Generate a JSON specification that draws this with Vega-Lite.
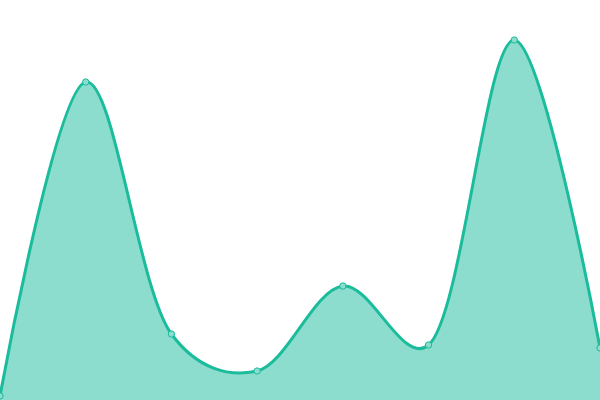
{
  "$schema": "https://vega.github.io/schema/vega-lite/v6.json",
  "width": 600,
  "height": 400,
  "padding": 0,
  "autosize": {"type": "none"},
  "background": "white",
  "config": {"view": {"stroke": null}},
  "data": {
    "values": [
      {"x": 0, "y": 4},
      {"x": 1, "y": 318},
      {"x": 2, "y": 66},
      {"x": 3, "y": 29},
      {"x": 4, "y": 114},
      {"x": 5, "y": 55},
      {"x": 6, "y": 360},
      {"x": 7, "y": 52}
    ]
  },
  "encoding": {
    "x": {"field": "x", "type": "quantitative", "axis": null, "scale": {"domain": [0, 7], "nice": false, "zero": false}},
    "y": {"field": "y", "type": "quantitative", "axis": null, "scale": {"domain": [0, 400], "nice": false}}
  },
  "layer": [
    {"mark": {"type": "area", "interpolate": "catmull-rom", "tension": 0.25, "color": "#1abc9c", "opacity": 0.5}},
    {"mark": {"type": "line", "interpolate": "catmull-rom", "tension": 0.25, "color": "#1abc9c", "strokeWidth": 3}},
    {"mark": {"type": "point", "filled": true, "size": 40, "fill": "#8cddcd", "stroke": "#1abc9c", "strokeWidth": 1, "opacity": 1}}
  ]
}
